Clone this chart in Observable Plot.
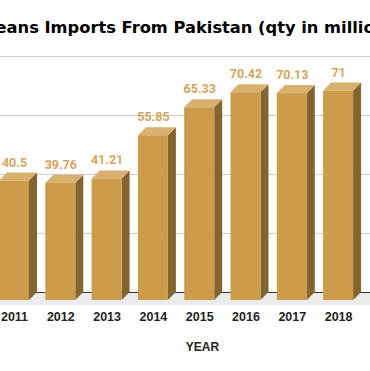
<!DOCTYPE html>
<html>
<head>
<meta charset="utf-8">
<script src="https://cdn.jsdelivr.net/npm/d3@7"></script>
<script src="https://cdn.jsdelivr.net/npm/@observablehq/plot@0.6"></script>
<style>
html, body { margin: 0; padding: 0; background: #fff; width: 370px; height: 371px; overflow: hidden; }
#title {
  position: relative; height: 46px; box-sizing: border-box; padding-top: 18px;
  line-height: 20px; white-space: nowrap; overflow: visible;
  font-family: "DejaVu Sans", sans-serif; font-weight: bold; font-size: 16.3px; color: #000;
  margin-left: -10.5px;
}
#chart svg { display: block; }
</style>
</head>
<body>
<div id="title"></div>
<div id="chart"></div>
<script>
// ---- data ----
const years = [2011, 2012, 2013, 2014, 2015, 2016, 2017, 2018];
const values = [40.5, 39.76, 41.21, 55.85, 65.33, 70.42, 70.13, 71];
const valueLabels = ["40.5", "39.76", "41.21", "55.85", "65.33", "70.42", "70.13", "71"];
const gridTicks = [20, 40, 60, 80];
const titleText = "Jeans Imports From Pakistan (qty in million)";
const xLabel = "YEAR";

// ---- layout (pixels) ----
const W = 370, H = 325;
const pxPerYear = 46.3, firstCenter = 14;
const yRange = [246, 10], yDomain = [0, 80];
const pxPerUnit = (yRange[0] - yRange[1]) / (yDomain[1] - yDomain[0]);
const xDomain = [years[0] - firstCenter / pxPerYear, years[0] + (W - firstCenter) / pxPerYear];
const hw = 15 / pxPerYear;      // half bar width (x units)
const dzx = 8 / pxPerYear;      // depth in x units
const dzy = 8 / pxPerUnit;      // depth in y units
const slab = 5 / pxPerUnit;     // floor slab thickness

const colors = { front: "#cc9c4b", side: "#85652f", top: "#d8b16f", label: "#d4a55a", floor: "#ebebeb", grid: "#cccccc", base: "#333333" };

document.getElementById("title").textContent = titleText;

const data = years.map((year, i) => ({ year, value: values[i], label: valueLabels[i], base: -dzy, front: values[i] - dzy, x1: year - hw, x2: year + hw }));

const sidePts = data.flatMap(d => [
  { year: d.year, x: d.year + hw, y1: -dzy, y2: d.value - dzy },
  { year: d.year, x: d.year + hw + dzx, y1: 0, y2: d.value }
]);
const topPts = data.flatMap(d => [
  { year: d.year, x: d.year - hw, y1: d.value - dzy, y2: d.value - dzy },
  { year: d.year, x: d.year - hw + dzx, y1: d.value - dzy, y2: d.value },
  { year: d.year, x: d.year + hw, y1: d.value - dzy, y2: d.value },
  { year: d.year, x: d.year + hw + dzx, y1: d.value, y2: d.value }
]);
const floor = [{ x1: xDomain[0], x2: xDomain[1], y1: 0, y2: -(dzy + slab) }];

const chart = Plot.plot({
  width: W, height: H,
  marginLeft: 0, marginRight: 0, marginTop: 0, marginBottom: 66,
  style: { fontFamily: "'Liberation Sans', Arial, sans-serif", fontWeight: "bold", background: "#fff", overflow: "visible" },
  x: { type: "linear", domain: xDomain },
  y: { domain: yDomain, range: yRange, axis: null },
  marks: [
    Plot.rect(floor, { x1: "x1", x2: "x2", y1: "y1", y2: "y2", fill: colors.floor }),
    Plot.ruleY(gridTicks, { stroke: colors.grid, strokeWidth: 1 }),
    Plot.ruleY([0], { stroke: colors.base, strokeWidth: 1.2 }),
    Plot.areaY(sidePts, { x: "x", y1: "y1", y2: "y2", z: "year", fill: colors.side }),
    Plot.areaY(topPts, { x: "x", y1: "y1", y2: "y2", z: "year", fill: colors.top }),
    Plot.rect(data, { x1: "x1", x2: "x2", y1: "base", y2: "front", fill: colors.front }),
    Plot.text(data, { x: "year", y: "value", text: "label", dy: -10.5, fill: colors.label, fontFamily: "Roboto", fontWeight: "bold", fontSize: 12.5 }),
    Plot.axisX(years, { tickSize: 0, tickPadding: 7, tickFormat: d => String(d), fontSize: 12.5, fill: "#222", label: null }),
    Plot.text([xLabel], { frameAnchor: "bottom", lineAnchor: "middle", dx: 17, dy: 42, fontSize: 12, fill: "#222" })
  ]
});
document.getElementById("chart").appendChild(chart);
</script>
</body>
</html>
